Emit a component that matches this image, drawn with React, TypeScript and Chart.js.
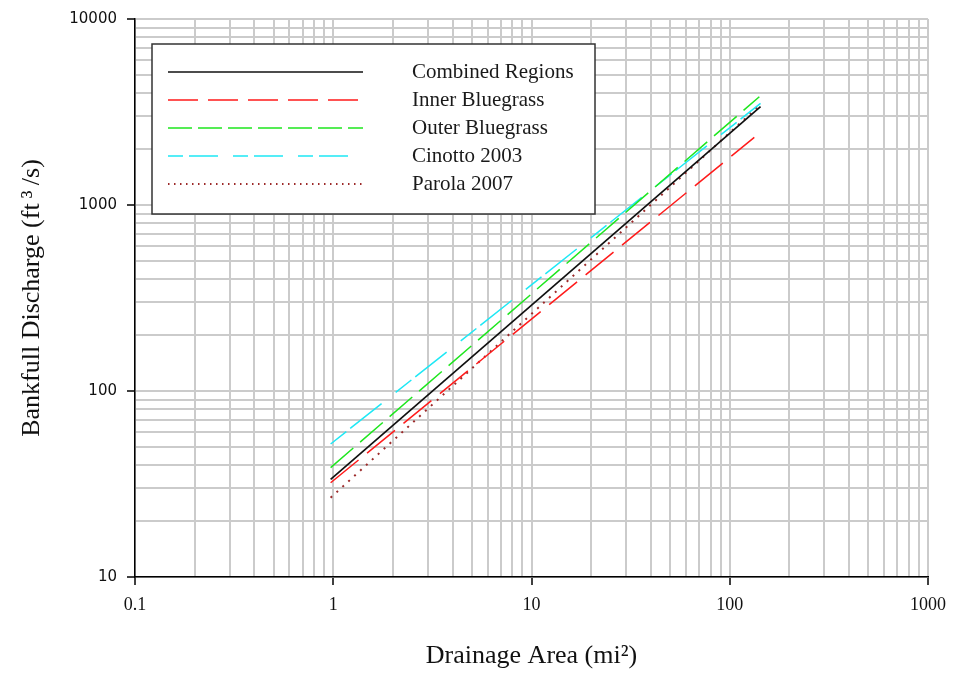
import React, { useEffect, useRef } from 'react';
import { Chart, registerables } from 'chart.js';
Chart.register(...registerables);

// Series names
const seriesNames = ['Combined Regions', 'Inner Bluegrass', 'Outer Bluegrass', 'Cinotto 2003', 'Parola 2007'];

// Regression lines (drainage area mi², bankfull discharge ft³/s)
const combinedArea = [0.97, 143];
const combinedQ = [33.5, 3380];
const innerArea = [0.97, 133];
const innerQ = [32.1, 2310];
const outerArea = [0.97, 141];
const outerQ = [38.7, 3820];
const cinottoArea = [0.97, 143];
const cinottoQ = [51.9, 3520];
const parolaArea = [0.97, 140];
const parolaQ = [26.7, 3400];

// Axis ticks
const xTickValues = [0.1, 1, 10, 100, 1000];
const xTickLabels = ['0.1', '1', '10', '100', '1000'];
const yTickValues = [10, 100, 1000, 10000];
const yTickLabels = ['10', '100', '1000', '10000'];

const xTitle = 'Drainage Area (mi\u00B2)';
const yTitle = 'Bankfull Discharge (ft\u2009\u00B3\u2009/s)';

const buildGrid = (majors: number[]) => {
  const out: { value: number; major: boolean }[] = [];
  for (let i = 0; i < majors.length - 1; i++) {
    for (let m = 1; m <= 9; m++) out.push({ value: majors[i] * m, major: m === 1 });
  }
  out.push({ value: majors[majors.length - 1], major: true });
  return out;
};

const majorIndex = (v: number, majors: number[]) =>
  majors.findIndex((m) => Math.abs(v - m) / m < 1e-6);

const toPoints = (xs: number[], ys: number[]) => xs.map((x, i) => ({ x, y: ys[i] }));

const legendPlugin = {
  id: 'boxLegend',
  afterDraw(chart: any) {
    const { ctx, chartArea } = chart;
    const x0 = chartArea.left + 17;
    const y0 = chartArea.top + 25;
    const w = 443;
    const h = 170;
    ctx.save();
    ctx.fillStyle = '#ffffff';
    ctx.fillRect(x0, y0, w, h);
    ctx.strokeStyle = '#333333';
    ctx.lineWidth = 1.5;
    ctx.setLineDash([]);
    ctx.strokeRect(x0, y0, w, h);
    chart.data.datasets.forEach((ds: any, i: number) => {
      const y = y0 + 28 + i * 28;
      ctx.beginPath();
      ctx.setLineDash(ds.legendDash || ds.borderDash || []);
      ctx.strokeStyle = ds.borderColor;
      ctx.lineWidth = ds.borderWidth;
      ctx.moveTo(x0 + 16, y);
      ctx.lineTo(x0 + 211, y);
      ctx.stroke();
      ctx.setLineDash([]);
      ctx.fillStyle = '#1a1a1a';
      ctx.font = '21px "Liberation Serif", serif';
      ctx.textBaseline = 'middle';
      ctx.textAlign = 'left';
      ctx.fillText(ds.label, x0 + 260, y);
    });
    ctx.restore();
  },
};

export default function App() {
  const ref = useRef<HTMLCanvasElement | null>(null);

  useEffect(() => {
    document.body.style.margin = '0';
    const canvas = ref.current;
    if (!canvas) return;
    const xGrid = buildGrid(xTickValues);
    const yGrid = buildGrid(yTickValues);

    const chart = new Chart(canvas, {
      type: 'line',
      data: {
        datasets: [
          { label: seriesNames[0], data: toPoints(combinedArea, combinedQ), borderColor: '#111111', borderWidth: 1.7, borderDash: [] },
          { label: seriesNames[1], data: toPoints(innerArea, innerQ), borderColor: '#ff1a1a', borderWidth: 1.5, borderDash: [36, 11], legendDash: [30, 10] },
          { label: seriesNames[2], data: toPoints(outerArea, outerQ), borderColor: '#1ee61e', borderWidth: 1.5, borderDash: [30, 9], legendDash: [24, 6] },
          { label: seriesNames[3], data: toPoints(cinottoArea, cinottoQ), borderColor: '#1ee8f5', borderWidth: 1.5, borderDash: [20, 5, 40, 18], legendDash: [15, 6, 29, 15] },
          { label: seriesNames[4], data: toPoints(parolaArea, parolaQ), borderColor: '#9c2a2a', borderWidth: 2, borderDash: [2, 6], legendDash: [1.5, 4.5] },
        ] as any,
      },
      options: {
        responsive: false,
        animation: false,
        parsing: false as any,
        layout: { padding: { left: 0, top: 19, right: 22, bottom: 0 } },
        elements: { point: { radius: 0 }, line: { tension: 0 } },
        plugins: { legend: { display: false }, tooltip: { enabled: false } },
        scales: {
          x: {
            type: 'logarithmic',
            min: 0.1,
            max: 1000,
            afterFit: (s: any) => { s.height = 96; },
            afterBuildTicks: (s: any) => { s.ticks = xGrid.map((t) => ({ ...t })); },
            border: { display: true, color: '#000000', width: 1.5 },
            grid: {
              color: '#cbcbcb',
              lineWidth: 2,
              drawTicks: true,
              tickLength: 8,
              tickColor: (c: any) => (c.tick && majorIndex(c.tick.value, xTickValues) >= 0 ? '#000000' : 'rgba(0,0,0,0)'),
              tickWidth: 1.5,
            },
            ticks: {
              autoSkip: false,
              maxRotation: 0,
              padding: 9,
              color: '#111111',
              font: { family: '"Liberation Serif", serif', size: 18 },
              callback: (v: any) => {
                const i = majorIndex(Number(v), xTickValues);
                return i >= 0 ? xTickLabels[i] : '';
              },
            },
            title: {
              display: true,
              text: xTitle,
              color: '#111111',
              font: { family: '"Liberation Serif", serif', size: 26 },
              padding: { top: 0, bottom: 1 },
            },
          },
          y: {
            type: 'logarithmic',
            min: 10,
            max: 10000,
            afterFit: (s: any) => { s.width = 135; },
            afterBuildTicks: (s: any) => { s.ticks = yGrid.map((t) => ({ ...t })); },
            border: { display: true, color: '#000000', width: 1.5 },
            grid: {
              color: '#cbcbcb',
              lineWidth: 2,
              drawTicks: true,
              tickLength: 8,
              tickColor: (c: any) => (c.tick && majorIndex(c.tick.value, yTickValues) >= 0 ? '#000000' : 'rgba(0,0,0,0)'),
              tickWidth: 1.5,
            },
            ticks: {
              autoSkip: false,
              padding: 10,
              color: '#111111',
              font: { family: '"DejaVu Sans", sans-serif', size: 15 },
              callback: (v: any) => {
                const i = majorIndex(Number(v), yTickValues);
                return i >= 0 ? yTickLabels[i] : '';
              },
            },
            title: {
              display: true,
              text: yTitle,
              color: '#111111',
              font: { family: '"Liberation Serif", serif', size: 26 },
              padding: { top: 17, bottom: 0 },
            },
          },
        },
      } as any,
      plugins: [legendPlugin],
    });
    return () => chart.destroy();
  }, []);

  return (
    <div style={{ width: 955, height: 673, background: '#ffffff' }}>
      <canvas ref={ref} width={955} height={673} style={{ display: 'block', width: 955, height: 673 }} />
    </div>
  );
}
